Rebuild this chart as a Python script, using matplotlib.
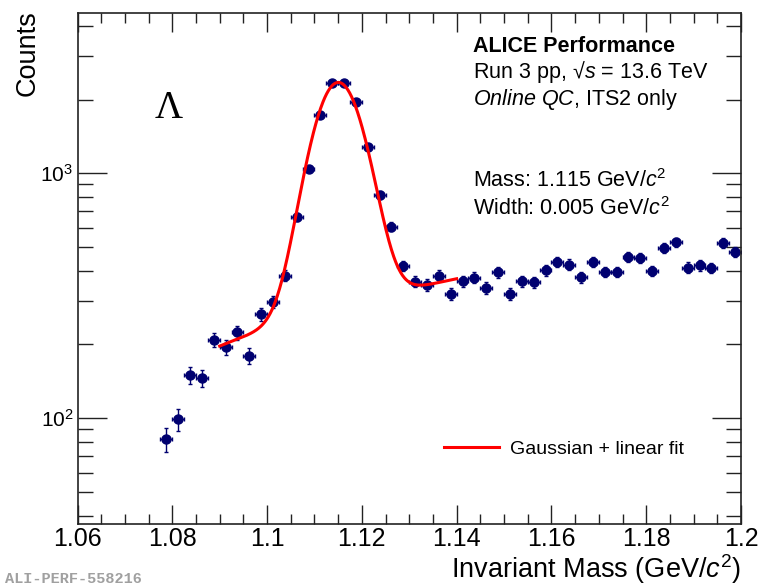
import numpy as np
import matplotlib
matplotlib.use("Agg")
import matplotlib.pyplot as plt
from matplotlib.ticker import MultipleLocator, LogLocator, NullFormatter, FuncFormatter
from matplotlib.lines import Line2D

plt.rcParams['font.family'] = ['Liberation Sans', 'DejaVu Sans']
plt.rcParams['mathtext.fontset'] = 'custom'
plt.rcParams['mathtext.rm'] = 'Liberation Sans'
plt.rcParams['mathtext.it'] = 'Liberation Sans:italic'
plt.rcParams['mathtext.bf'] = 'Liberation Sans:bold'

# Invariant-mass histogram (ITS2-only V0 candidates)
bin_width = 0.0025
first_bin_center = 1.07875
counts = [82, 99, 150, 146, 209, 195, 224, 180, 266, 299,
          382, 665, 1041, 1730, 2330, 2343, 1949, 1280, 815, 605,
          418, 361, 350, 382, 321, 363, 375, 341, 394, 321,
          363, 359, 402, 435, 424, 377, 435, 396, 396, 455,
          452, 399, 496, 523, 412, 421, 411, 519, 479]
mass_centers = first_bin_center + bin_width * np.arange(len(counts))
count_errors = np.sqrt(counts)

# Gaussian + linear fit result
fit_mass = 1.115
fit_width = 0.005
fit_amplitude = 2065.0
bkg_p0 = -3596.2
bkg_p1 = 3480.0
fit_range = (1.09, 1.14)

x_ticks = [1.06, 1.08, 1.10, 1.12, 1.14, 1.16, 1.18, 1.20]

W, H = 759, 587
fig = plt.figure(figsize=(W / 100, H / 100), dpi=100)
ax = fig.add_axes([77.5 / W, 1 - 524 / H, (741 - 77.5) / W, (524 - 13) / H])

navy = '#000070'
ax.errorbar(mass_centers, counts, xerr=bin_width / 2, yerr=count_errors,
            fmt='o', color=navy, mec=navy, ms=6.5, elinewidth=1.0,
            capsize=1.5, capthick=1.0, zorder=2)

xf = np.linspace(fit_range[0], fit_range[1], 400)
yf = fit_amplitude * np.exp(-0.5 * ((xf - fit_mass) / fit_width) ** 2) + bkg_p0 + bkg_p1 * xf
fit_line, = ax.plot(xf, yf, color='red', lw=2.2, zorder=3)

ax.set_yscale('log')
ax.set_xlim(1.06, 1.20)
ax.set_ylim(37, 4510)

ax.set_xticks(x_ticks)
ax.xaxis.set_major_formatter(FuncFormatter(lambda v, p: f"{v:g}"))
ax.xaxis.set_minor_locator(MultipleLocator(0.005))
ax.yaxis.set_major_locator(LogLocator(base=10, numticks=10))
ax.yaxis.set_minor_locator(LogLocator(base=10, subs=np.arange(2, 10), numticks=20))
ax.yaxis.set_minor_formatter(NullFormatter())

ax.tick_params(which='both', direction='in', top=True, right=True, width=1.0, color='#222222')
ax.xaxis.set_tick_params(which='major', length=14, labelsize=18, pad=2)
ax.xaxis.set_tick_params(which='minor', length=7)
ax.yaxis.set_tick_params(which='major', length=21, labelsize=15, pad=3)
ax.yaxis.set_tick_params(which='minor', length=11)
for s in ax.spines.values():
    s.set_linewidth(1.2)
    s.set_color('#222222')

# Axis titles
fig.text(741 / W, 1 - 578 / H, r"Invariant Mass (GeV/$c^{2}$)", ha='right', va='baseline', fontsize=19.5)
fig.text(28 / W, 1 - 10 / H, "Counts", rotation=90, ha='center', va='top', fontsize=19.5)

# Particle symbol
fig.text(169 / W, 1 - 108 / H, "Λ", family='Liberation Serif', fontsize=28, ha='center', va='center')

# Header text
tx = 473 / W
fig.text(tx, 1 - 51.7 / H, "ALICE Performance", fontsize=15.5, weight='bold', va='baseline')
fig.text(tx, 1 - 78 / H, r"Run 3 pp, √$s$ = 13.6 TeV", fontsize=15.5, va='baseline')
fig.text(tx, 1 - 105 / H, r"$Online\ QC$, ITS2 only", fontsize=15.5, va='baseline')
fig.text(tx, 1 - 186.7 / H, r"Mass: 1.115 GeV/$c^{2}$", fontsize=15.5, va='baseline')
fig.text(tx, 1 - 215 / H, r"Width: 0.005 GeV/$c^{2}$", fontsize=15.5, va='baseline')

# Legend
ax.legend(handles=[Line2D([], [], color='red', lw=2.2)], labels=["Gaussian + linear fit"],
          frameon=False, fontsize=14, handlelength=2.83, handletextpad=0.57,
          borderpad=0, borderaxespad=0, loc='center left',
          bbox_to_anchor=((444 - 77.5) / (741 - 77.5), (524 - 449) / (524 - 13)))

fig.text(5 / W, 1 - 583 / H, "ALI-PERF-558216", family='Liberation Mono', color='#a0a0a0',
         fontsize=11, weight='bold', va='baseline')

fig.savefig("out.png", dpi=100)
